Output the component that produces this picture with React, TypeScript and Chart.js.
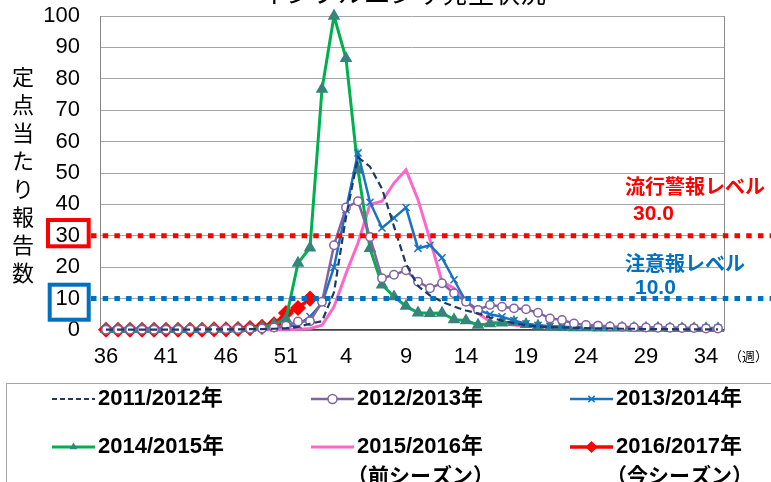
import React, { useEffect, useRef } from 'react';
import { Chart, registerables } from 'chart.js';

Chart.register(...registerables);

const NUM_FONT = "'Liberation Sans', 'Noto Sans CJK JP', sans-serif";
const JP_FONT = "'Noto Sans CJK JP', 'Liberation Sans', sans-serif";

// ---- data ----
const weeks = [
  '36', '37', '38', '39', '40', '41', '42', '43', '44', '45', '46', '47', '48', '49', '50', '51', '52',
  '1', '2', '3', '4', '5', '6', '7', '8', '9', '10', '11', '12', '13', '14', '15', '16', '17', '18',
  '19', '20', '21', '22', '23', '24', '25', '26', '27', '28', '29', '30', '31', '32', '33', '34', '35',
];
const shownWeeks = ['36', '41', '46', '51', '4', '9', '14', '19', '24', '29', '34'];
const yTicks = [0, 10, 20, 30, 40, 50, 60, 70, 80, 90, 100];

const seriesLabels = ['2011/2012年', '2012/2013年', '2013/2014年', '2014/2015年', '2015/2016年', '2016/2017年'];
const seriesNotes = ['', '', '', '', '（前シーズン）', '（今シーズン）'];

const s2011 = [
  0.1, 0.1, 0.1, 0.1, 0.1, 0.1, 0.1, 0.1, 0.2, 0.2, 0.2, 0.2, 0.3, 0.3, 0.4, 0.6, 1.0,
  2.0, 2.8, 12, 36, 55, 52, 45, 33, 21, 14, 11, 9, 7.5, 6.2, 5.3, 4.0, 3.0, 2.2,
  1.5, 1.1, 0.9, 0.8, 0.7, 0.6, 0.5, 0.5, 0.4, 0.4, 0.3, 0.3, 0.3, 0.2, 0.2, 0.2, 0.2,
];
const s2012 = [
  0.1, 0.1, 0.1, 0.1, 0.1, 0.1, 0.1, 0.2, 0.2, 0.2, 0.3, 0.3, 0.4, 0.5, 0.8, 1.4, 2.7,
  2.8, 9, 27, 39, 41, 29.6, 16.5, 17.6, 19, 15.4, 13.3, 14.9, 11.7, 9, 6.4, 8, 7.4, 6.9,
  6.6, 5.5, 3.7, 3.2, 2.1, 1.6, 1.4, 1.1, 1.0, 0.9, 0.8, 0.7, 0.7, 0.6, 0.6, 0.5, 0.5,
];
const s2013 = [
  0.2, 0.2, 0.2, 0.2, 0.2, 0.2, 0.2, 0.2, 0.2, 0.2, 0.2, 0.2, 0.3, 0.5, 0.7, 1.0, 1.6,
  4.3, 8.5, 20, 38.3, 56.4, 40.7, 32.5, 35.7, 39, 26, 27, 23, 16, 9, 6.4, 5, 4.2, 3,
  2, 1.5, 1.2, 1.0, 0.9, 0.9, 0.8, 0.8, 0.8, 0.7, 0.7, 0.7, 0.7, 0.6, 0.6, 0.6, 0.6,
];
const s2014 = [
  0.2, 0.2, 0.2, 0.2, 0.2, 0.2, 0.2, 0.2, 0.2, 0.3, 0.3, 0.4, 0.5, 0.9, 1.8, 3.5, 21.3,
  26.2, 76.7, 100, 86.5, 51, 26, 14.4, 10.6, 7.6, 5.5, 5.3, 5.4, 3.3, 3.0, 1.6, 2.0, 2.3, 2.5,
  1.8, 1.3, 1.0, 0.9, 0.8, 0.8, 0.7, 0.7, 0.7, 0.6, 0.6, 0.6, 0.5, 0.5, 0.5, 0.5, 0.5,
];
const s2015 = [
  0.1, 0.1, 0.1, 0.1, 0.1, 0.1, 0.1, 0.1, 0.1, 0.1, 0.1, 0.1, 0.1, 0.1, 0.1, 0.1, 0.2,
  0.5, 1.5, 7.4, 18, 27.7, 40, 41, 46.8, 51, 41.5, 28.8, 15.4, 13.3, 9.6, 5.3, 2.7, 2.0, 1.6,
  1.3, 1.1, 0.8, 0.6, 0.5, 0.5, 0.4, 0.4, 0.4, 0.4, 0.3, 0.3, 0.3, 0.3, 0.3, 0.3, 0.3,
];
const s2016 = [
  0.1, 0.1, 0.1, 0.1, 0.1, 0.1, 0.1, 0.1, 0.1, 0.2, 0.2, 0.3, 0.6, 1.0, 1.8, 5.4, 7.0,
  10.0, null, null, null, null, null, null, null, null, null, null, null, null, null, null, null, null, null,
  null, null, null, null, null, null, null, null, null, null, null, null, null, null, null, null, null,
];

const thresholdValues = [30, 10];
const thresholdLabels = ['流行警報レベル', '注意報レベル'];
const thresholdValueTexts = ['30.0', '10.0'];

const titleText = 'インフルエンザ発生状況';
const yTitle = '定点当たり報告数';
const xUnit = '（週）';

// ---- styles ----
const seriesStyles = [
  { color: '#1F3864', width: 2.2, dash: [7, 4], legendDash: [5, 3], point: 'none', pr: 0, pfill: '#1F3864' },
  { color: '#8064A2', width: 2.5, dash: [], legendDash: [], point: 'circle', pr: 4.2, pfill: '#FFFFFF' },
  { color: '#1A73C2', width: 2.5, dash: [], legendDash: [], point: 'crossRot', pr: 5, pfill: '#1A73C2' },
  { color: '#00B050', width: 3, dash: [], legendDash: [], point: 'triangle', pr: 5.8, pfill: '#35857A' },
  { color: '#FF66CC', width: 3, dash: [], legendDash: [], point: 'none', pr: 0, pfill: '#FF66CC' },
  { color: '#FF0000', width: 3.5, dash: [], legendDash: [], point: 'rectRot', pr: 7, pfill: '#FF0000' },
];
const seriesData = [s2011, s2012, s2013, s2014, s2015, s2016];

const thresholdStyles = [
  { color: '#FF0000', labelX: 625, labelY: 186, valX: 633, valY: 214, box: [48, 220, 40.7, 26.3] },
  { color: '#0070C0', labelX: 625, labelY: 263, valX: 635, valY: 288, box: [49.7, 284.7, 39, 35] },
];

const legendCols = [52, 311, 570];
const legendRows = [399, 447];

function drawMarker(ctx: CanvasRenderingContext2D, type: string, x: number, y: number, r: number, stroke: string, fill: string) {
  ctx.save();
  ctx.setLineDash([]);
  ctx.strokeStyle = stroke;
  ctx.fillStyle = fill;
  ctx.lineWidth = 1.5;
  ctx.beginPath();
  if (type === 'circle') {
    ctx.arc(x, y, r, 0, Math.PI * 2);
    ctx.fill();
    ctx.stroke();
  } else if (type === 'crossRot') {
    const d = r * 0.7;
    ctx.moveTo(x - d, y - d); ctx.lineTo(x + d, y + d);
    ctx.moveTo(x + d, y - d); ctx.lineTo(x - d, y + d);
    ctx.stroke();
  } else if (type === 'triangle') {
    ctx.moveTo(x, y - r);
    ctx.lineTo(x + r * 0.87, y + r * 0.5);
    ctx.lineTo(x - r * 0.87, y + r * 0.5);
    ctx.closePath();
    ctx.fill();
  } else if (type === 'rectRot') {
    ctx.moveTo(x, y - r); ctx.lineTo(x + r, y); ctx.lineTo(x, y + r); ctx.lineTo(x - r, y);
    ctx.closePath();
    ctx.fill();
  }
  ctx.restore();
}

const overlayPlugin = {
  id: 'overlay',
  afterDatasetsDraw(chart: any) {
    const { ctx, chartArea: a, scales } = chart;
    const ys = scales.y;
    ctx.save();

    // right border of plot
    ctx.strokeStyle = '#8C8C8C';
    ctx.lineWidth = 1;
    ctx.beginPath();
    ctx.moveTo(a.right + 0.5, a.top);
    ctx.lineTo(a.right + 0.5, a.bottom);
    ctx.stroke();

    // threshold lines, boxes, labels
    thresholdValues.forEach((v, i) => {
      const st = thresholdStyles[i];
      const py = ys.getPixelForValue(v);
      ctx.save();
      ctx.strokeStyle = st.color;
      ctx.lineWidth = 5;
      ctx.setLineDash([5.5, 6.2]);
      ctx.beginPath();
      ctx.moveTo(91, py);
      ctx.lineTo(771, py);
      ctx.stroke();
      ctx.restore();

      ctx.strokeStyle = st.color;
      ctx.lineWidth = 4;
      ctx.strokeRect(st.box[0], st.box[1], st.box[2], st.box[3]);

      ctx.fillStyle = st.color;
      ctx.textBaseline = 'middle';
      ctx.textAlign = 'left';
      ctx.font = `bold 20px ${JP_FONT}`;
      ctx.fillText(thresholdLabels[i], st.labelX, st.labelY);
      ctx.font = `bold 21px ${NUM_FONT}`;
      ctx.fillText(thresholdValueTexts[i], st.valX, st.valY);
    });

    // title (partly clipped at top)
    ctx.fillStyle = '#000';
    ctx.textAlign = 'center';
    ctx.textBaseline = 'alphabetic';
    ctx.font = `26px ${JP_FONT}`;
    ctx.fillText(titleText, 403, 3);

    // y-axis title, stacked characters
    ctx.font = `22px ${JP_FONT}`;
    ctx.textBaseline = 'middle';
    Array.from(yTitle).forEach((ch, i) => {
      ctx.fillText(ch, 23, 77 + i * 28);
    });

    // x unit
    ctx.font = `13px ${JP_FONT}`;
    ctx.textAlign = 'left';
    ctx.fillText(xUnit, 729, 356);

    // legend box
    ctx.strokeStyle = '#A6A6A6';
    ctx.lineWidth = 1;
    ctx.strokeRect(6.5, 383.5, 900, 200);

    chart.data.datasets.forEach((ds: any, i: number) => {
      const st = seriesStyles[i];
      const x0 = legendCols[i % 3];
      const y0 = legendRows[Math.floor(i / 3)];
      ctx.save();
      ctx.strokeStyle = st.color;
      ctx.lineWidth = st.width;
      ctx.setLineDash(st.legendDash);
      ctx.beginPath();
      ctx.moveTo(x0, y0);
      ctx.lineTo(x0 + 43, y0);
      ctx.stroke();
      ctx.restore();
      if (st.point !== 'none') {
        drawMarker(ctx, st.point, x0 + 21.5, y0, st.point === 'rectRot' ? 6 : 4.5, st.color, st.pfill);
      }
      ctx.fillStyle = '#000';
      ctx.textAlign = 'left';
      ctx.textBaseline = 'middle';
      ctx.font = `bold 22px ${NUM_FONT}`;
      ctx.fillText(ds.label, x0 + 46, y0);
      if (seriesNotes[i]) {
        ctx.font = `bold 21px ${JP_FONT}`;
        ctx.fillText(seriesNotes[i], x0 + 36, y0 + 28);
      }
    });

    ctx.restore();
  },
};

export default function App() {
  const ref = useRef<HTMLCanvasElement>(null);

  useEffect(() => {
    if (!ref.current) return;
    const chart = new Chart(ref.current, {
      type: 'line',
      data: {
        labels: weeks,
        datasets: seriesData.map((d, i) => {
          const st = seriesStyles[i];
          return {
            label: seriesLabels[i],
            data: d,
            clip: false,
            borderColor: st.color,
            backgroundColor: st.pfill,
            borderWidth: st.width,
            borderDash: st.dash,
            tension: 0,
            spanGaps: false,
            pointStyle: st.point === 'none' ? 'circle' : st.point,
            pointRadius: st.pr,
            pointBackgroundColor: st.pfill,
            pointBorderColor: st.point === 'triangle' || st.point === 'rectRot' ? st.pfill : st.color,
            pointBorderWidth: 1.5,
          } as any;
        }),
      },
      options: {
        responsive: false,
        animation: false,
        events: [],
        layout: { padding: { top: 16, right: 47, bottom: 0, left: 0 } },
        plugins: {
          legend: { display: false },
          tooltip: { enabled: false },
          title: { display: false },
        },
        scales: {
          x: {
            type: 'category',
            offset: true,
            grid: { display: false, drawTicks: false },
            border: { display: true, color: '#404040', width: 1.5 },
            ticks: {
              autoSkip: false,
              maxRotation: 0,
              minRotation: 0,
              padding: 14,
              color: '#000',
              font: { family: NUM_FONT, size: 22 },
              callback: (_v: any, idx: number) => (shownWeeks.includes(weeks[idx]) ? weeks[idx] : ''),
            },
            afterFit: (s: any) => { s.height = 152; s.paddingLeft = 0; s.paddingRight = 0; },
          },
          y: {
            min: 0,
            max: 100,
            afterBuildTicks: (s: any) => { s.ticks = yTicks.map((v) => ({ value: v })); },
            grid: { color: '#A6A6A6', drawTicks: false, lineWidth: 1 },
            border: { display: true, color: '#868686', width: 1 },
            ticks: {
              padding: 20,
              color: '#000',
              font: { family: NUM_FONT, size: 22 },
            },
            afterFit: (s: any) => { s.width = 100; s.paddingTop = 0; s.paddingBottom = 0; },
          },
        },
      },
      plugins: [overlayPlugin],
    });
    return () => chart.destroy();
  }, []);

  return (
    <div style={{ position: 'absolute', left: 0, top: 0, width: 771, height: 482, background: '#fff' }}>
      <canvas ref={ref} width={771} height={482} style={{ display: 'block' }} />
    </div>
  );
}
